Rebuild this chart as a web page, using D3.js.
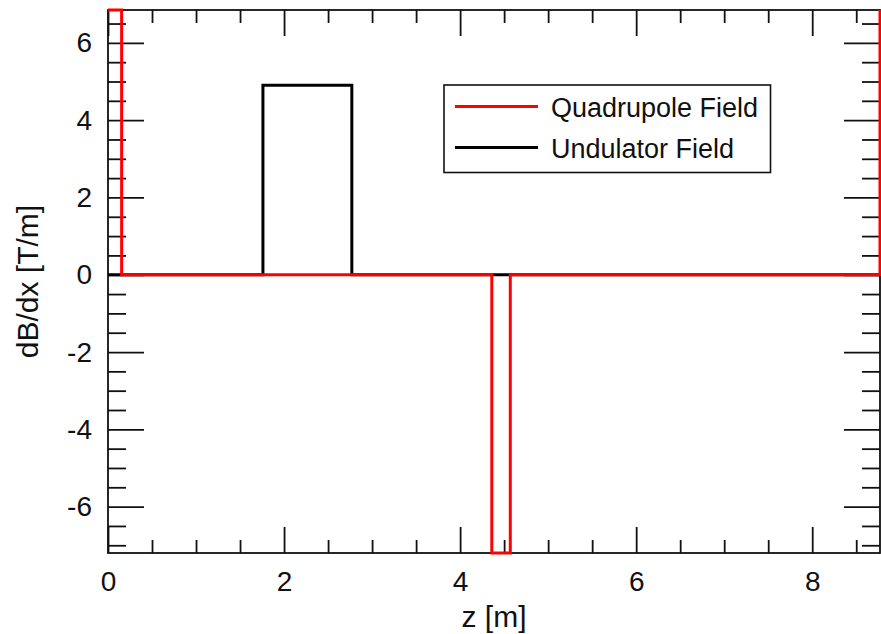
<!DOCTYPE html>
<html>
<head>
<meta charset="utf-8">
<script src="https://cdn.jsdelivr.net/npm/d3@7"></script>
<style>
  html, body { margin: 0; padding: 0; background: #fff; }
  svg { display: block; }
  text { font-family: "Liberation Sans", Arial, Helvetica, sans-serif; fill: #111; }
</style>
</head>
<body>
<svg id="chart" width="881" height="634"></svg>
<script>
// Field gradient profiles along the beamline (step functions).
const quadZ = [0, 0.155, 0.155, 4.36, 4.36, 4.57, 4.57, 8.77, 8.77];
const quadG = [6.85, 6.85, 0, 0, -7.2, -7.2, 0, 0, 6.85];
const undZ = [0, 1.76, 1.76, 2.77, 2.77, 8.77];
const undG = [0, 0, 4.9, 4.9, 0, 0];

const xMajor = [0, 2, 4, 6, 8];
const xMinor = [0.5, 1, 1.5, 2.5, 3, 3.5, 4.5, 5, 5.5, 6.5, 7, 7.5, 8.5];
const yMajor = [-6, -4, -2, 0, 2, 4, 6];
const yMinor = [-7, -6.5, -5.5, -5, -4.5, -3.5, -3, -2.5, -1.5, -1, -0.5,
                0.5, 1, 1.5, 2.5, 3, 3.5, 4.5, 5, 5.5, 6.5];

const seriesNames = ["Quadrupole Field", "Undulator Field"];
const seriesColors = ["#ff0000", "#000000"];

const margin = { left: 108, right: 1, top: 10, bottom: 81 };
const W = 881, H = 634;
const pw = W - margin.left - margin.right;
const ph = H - margin.top - margin.bottom;

const svg = d3.select("#chart");
const g = svg.append("g").attr("transform", `translate(${margin.left},${margin.top})`);

const x = d3.scaleLinear().domain([0, 8.77]).range([0, pw]);
const y = d3.scaleLinear().domain([-7.2, 6.85]).range([ph, 0]);

const xMajLen = 26, xMinLen = 13, yMajLen = 36, yMinLen = 18;
const fmt = d => String(d);

function styleAxis(sel) {
  sel.selectAll(".domain").remove();
  sel.selectAll(".tick line").attr("stroke", "#111").attr("stroke-width", 1.8);
  sel.selectAll("text").style("font-size", "28px").attr("fill", "#111");
}

// bottom
g.append("g").attr("transform", `translate(0,${ph})`)
  .call(d3.axisBottom(x).tickValues(xMajor).tickFormat(fmt).tickSize(-xMajLen).tickPadding(18))
  .call(styleAxis);
g.append("g").attr("transform", `translate(0,${ph})`)
  .call(d3.axisBottom(x).tickValues(xMinor).tickFormat("").tickSize(-xMinLen))
  .call(styleAxis);
// top
g.append("g")
  .call(d3.axisTop(x).tickValues(xMajor).tickFormat("").tickSize(-xMajLen))
  .call(styleAxis);
g.append("g")
  .call(d3.axisTop(x).tickValues(xMinor).tickFormat("").tickSize(-xMinLen))
  .call(styleAxis);
// left
g.append("g")
  .call(d3.axisLeft(y).tickValues(yMajor).tickFormat(fmt).tickSize(-yMajLen).tickPadding(16))
  .call(styleAxis);
g.append("g")
  .call(d3.axisLeft(y).tickValues(yMinor).tickFormat("").tickSize(-yMinLen))
  .call(styleAxis);
// right
g.append("g").attr("transform", `translate(${pw},0)`)
  .call(d3.axisRight(y).tickValues(yMajor).tickFormat("").tickSize(-yMajLen))
  .call(styleAxis);
g.append("g").attr("transform", `translate(${pw},0)`)
  .call(d3.axisRight(y).tickValues(yMinor).tickFormat("").tickSize(-yMinLen))
  .call(styleAxis);

// frame
g.append("rect").attr("x", 0).attr("y", 0).attr("width", pw).attr("height", ph)
  .attr("fill", "none").attr("stroke", "#111").attr("stroke-width", 1.8);

// traces
const line = d3.line().x(d => x(d[0])).y(d => y(d[1]));
g.append("path").datum(d3.zip(undZ, undG))
  .attr("d", line).attr("fill", "none")
  .attr("stroke", seriesColors[1]).attr("stroke-width", 3);
g.append("path").datum(d3.zip(quadZ, quadG))
  .attr("d", line).attr("fill", "none")
  .attr("stroke", seriesColors[0]).attr("stroke-width", 3);

// axis titles
svg.append("text").attr("x", margin.left + pw / 2).attr("y", 627)
  .attr("text-anchor", "middle").style("font-size", "30px").text("z [m]");
svg.append("text").attr("transform", `translate(38,${margin.top + ph / 2}) rotate(-90)`)
  .attr("text-anchor", "middle").style("font-size", "30px").text("dB/dx [T/m]");

// legend
const lg = svg.append("g");
lg.append("rect").attr("x", 444).attr("y", 85).attr("width", 326.5).attr("height", 87.5)
  .attr("fill", "#fff").attr("stroke", "#111").attr("stroke-width", 1.6);
const legY = [106.5, 147.5];
seriesNames.forEach((name, i) => {
  lg.append("line").attr("x1", 455).attr("x2", 538).attr("y1", legY[i]).attr("y2", legY[i])
    .attr("stroke", seriesColors[i]).attr("stroke-width", 3);
  lg.append("text").attr("x", 551).attr("y", legY[i] + 10)
    .style("font-size", "27px").text(name);
});
</script>
</body>
</html>
